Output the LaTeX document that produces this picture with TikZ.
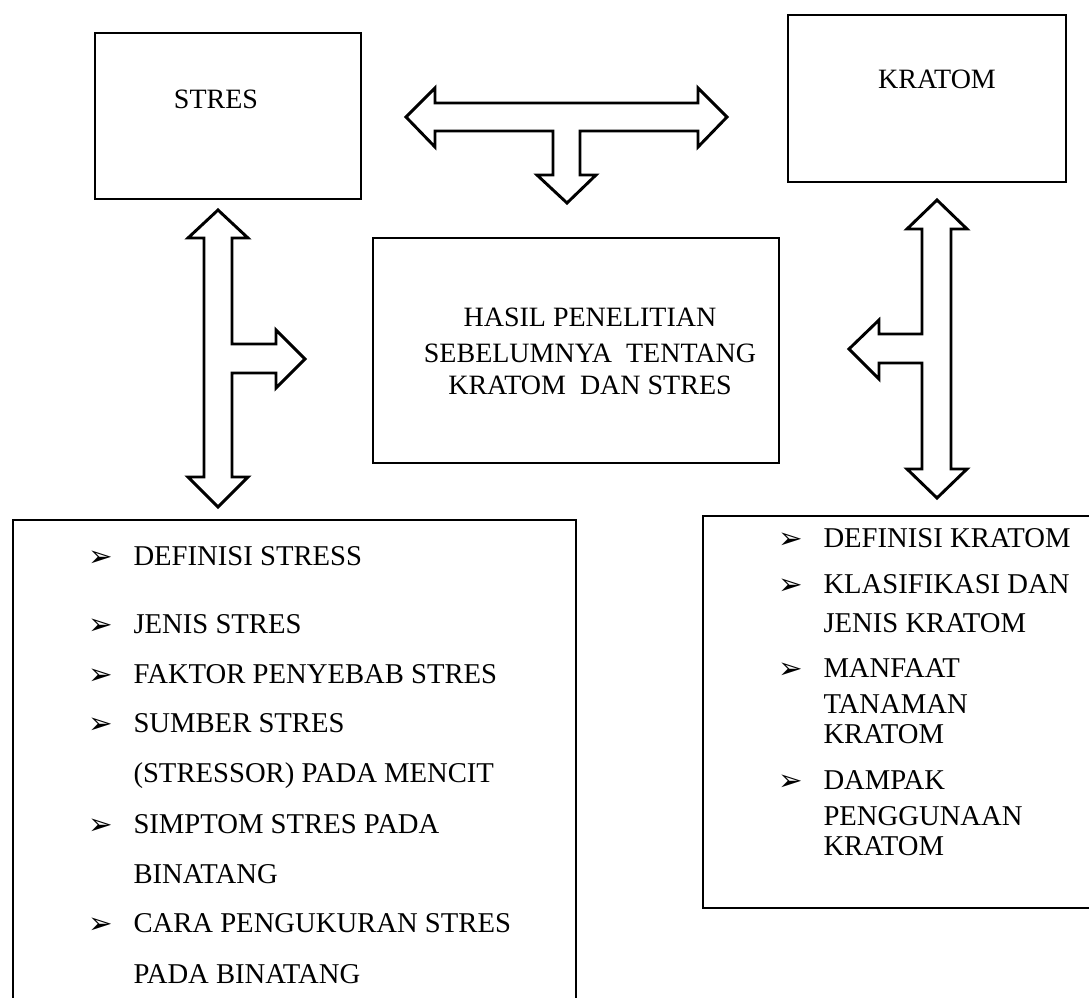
\documentclass[tikz,border=0pt]{standalone}
\usepackage{fontspec}
\setmainfont{Liberation Serif}
\newfontfamily\dingfont{DejaVu Sans}

\tikzset{every picture/.style={line width=0.75pt}}
\tikzset{
  box/.style={draw, line width=1.3pt, inner sep=0pt},
  blockarrow/.style={draw, line width=2.2pt, line join=miter, fill=white},
  txt/.style={inner sep=0pt, anchor=base west, font=\fontsize{21.5}{25}\selectfont},
  ctxt/.style={inner sep=0pt, anchor=base, font=\fontsize{21}{25}\selectfont},
  bul/.style={inner sep=0pt, anchor=base west, font=\dingfont\fontsize{22}{24}\selectfont},
}

\begin{document}
\begin{tikzpicture}[x=0.75pt,y=0.75pt,yscale=-1,xscale=1]
\useasboundingbox (0,0) rectangle (1089,998);
\clip (0,0) rectangle (1089,998);

%Shape: Rectangle [stres]
\node[box, minimum width=199.5pt, minimum height=124.5pt] (stres) at (228,116) {};
%Shape: Rectangle [kratom]
\node[box, minimum width=208.5pt, minimum height=125.25pt] (kratom) at (927,98.5) {};
%Shape: Rectangle [hasil]
\node[box, minimum width=304.5pt, minimum height=168.75pt] (hasil) at (576,350.5) {};
%Shape: Rectangle [liststres]
\node[box, minimum width=422.25pt, minimum height=375pt] (liststres) at (294.5,770) {};
%Shape: Rectangle [listkratom]
\node[box, minimum width=297.75pt, minimum height=294pt] (listkratom) at (901.5,712) {};

%Shape: Double T Arrow [top]
\draw[blockarrow] (406,117) -- (435,88) -- (435,103) -- (698,103) -- (698,88) -- (727,117) -- (698,147) -- (698,131) -- (580,131) -- (580,175) -- (596,175) -- (567,203) -- (537,175) -- (553,175) -- (553,131) -- (435,131) -- (435,147) -- cycle ;
%Shape: Double T Arrow [left]
\draw[blockarrow] (218,210) -- (248,238) -- (232,238) -- (232,344) -- (276,344) -- (276,330) -- (305,359) -- (276,388) -- (276,373) -- (232,373) -- (232,477) -- (248,477) -- (218,507) -- (188,477) -- (204,477) -- (204,238) -- (188,238) -- cycle ;
%Shape: Double T Arrow [right]
\draw[blockarrow] (937,200) -- (967,229) -- (951,229) -- (951,469) -- (967,469) -- (937,498) -- (907,469) -- (922,469) -- (922,363) -- (879,363) -- (879,379) -- (849,349) -- (879,320) -- (879,334) -- (922,334) -- (922,229) -- (907,229) -- cycle ;

% Text Node
\node[ctxt] (stresL) at (216,109) {STRES};
% Text Node
\node[ctxt] (kratomL) at (937,89) {KRATOM};
% Text Node
\node[ctxt] (hasilA) at (590,327) {HASIL PENELITIAN};
% Text Node
\node[ctxt] (hasilB) at (590,363) {SEBELUMNYA~ TENTANG};
% Text Node
\node[ctxt] (hasilC) at (590,395) {KRATOM~ DAN STRES};

% Bullets, left list
\node[bul] (bs1) at (88,566) {➢};
\node[bul] (bs2) at (88,634) {➢};
\node[bul] (bs3) at (88,684) {➢};
\node[bul] (bs4) at (88,733) {➢};
\node[bul] (bs5) at (88,834) {➢};
\node[bul] (bs6) at (88,933) {➢};
% Text Node
\node[txt] (ls1) at (133,565) {DEFINISI STRESS};
\node[txt] (ls2) at (133,633) {JENIS STRES};
\node[txt] (ls3) at (133,683) {FAKTOR PENYEBAB STRES};
\node[txt] (ls4) at (133,732) {SUMBER STRES};
\node[txt] (ls5) at (133,782) {(STRESSOR) PADA MENCIT};
\node[txt] (ls6) at (133,833) {SIMPTOM STRES PADA};
\node[txt] (ls7) at (133,883) {BINATANG};
\node[txt] (ls8) at (133,932) {CARA PENGUKURAN STRES};
\node[txt] (ls9) at (133,983) {PADA BINATANG};

% Bullets, right list
\node[bul] (bk1) at (778,548) {➢};
\node[bul] (bk2) at (778,594) {➢};
\node[bul] (bk3) at (778,678) {➢};
\node[bul] (bk4) at (778,790) {➢};
% Text Node
\node[txt] (lk1) at (823,547) {DEFINISI KRATOM};
\node[txt] (lk2) at (823,593) {KLASIFIKASI DAN};
\node[txt] (lk3) at (823,632) {JENIS KRATOM};
\node[txt] (lk4) at (823,677) {MANFAAT};
\node[txt] (lk5) at (823,713) {TANAMAN};
\node[txt] (lk6) at (823,743) {KRATOM};
\node[txt] (lk7) at (823,789) {DAMPAK};
\node[txt] (lk8) at (823,825) {PENGGUNAAN};
\node[txt] (lk9) at (823,855) {KRATOM};

\end{tikzpicture}
\end{document}
